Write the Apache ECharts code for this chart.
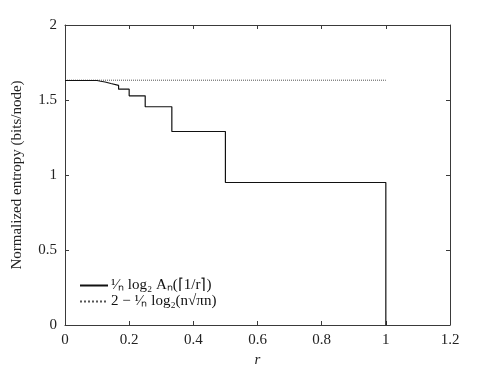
<!DOCTYPE html>
<html>
<head>
<meta charset="utf-8">
<script src="https://cdn.jsdelivr.net/npm/echarts@6/dist/echarts.min.js"></script>
<style>
  html, body { margin: 0; padding: 0; background: #fff; }
  #chart { width: 498px; height: 373px; }
</style>
</head>
<body>
<div id="chart"></div>
<script>
// step breakpoints r = 1/k and the level held to the right of each one
var stepR = [0, 0.1, 0.111, 0.125, 0.143, 0.167, 0.2, 0.25, 0.333, 0.5, 1];
var stepV = [1.63, 1.625, 1.62, 1.61, 1.597, 1.572, 1.528, 1.455, 1.29, 0.95, 0];
// bound 2 - (1/n) log2(n sqrt(pi n))
var boundR = [0, 1];
var boundV = [1.632, 1.632];
var xTicks = [0, 0.2, 0.4, 0.6, 0.8, 1, 1.2];
var yTicks = [0, 0.5, 1, 1.5, 2];

var FONT = 'Liberation Serif';
var AX = '#3a3a3a';

var chart = echarts.init(document.getElementById('chart'));

function pairs(xs, ys) {
  return xs.map(function (x, i) { return [x, ys[i]]; });
}

var boxAxis = {
  axisLine: { show: true, onZero: false, lineStyle: { color: AX, width: 1 } },
  axisTick: { show: true, inside: true, length: 4, lineStyle: { color: AX } },
  axisLabel: { show: false },
  splitLine: { show: false }
};

chart.setOption({
  animation: false,
  grid: { left: 65, right: 48, top: 25, bottom: 48 },
  legend: {
    orient: 'vertical',
    left: 74, top: 273,
    itemWidth: 28, itemHeight: 10, itemGap: 1,
    itemStyle: { opacity: 0 },
    textStyle: { fontFamily: FONT, fontSize: 15, color: '#111', padding: [0, 0, 0, -2] },
    data: ['s', 'b'],
    formatter: function (n) {
      return n === 's' ? '\u00b9\u2044\u2099 log\u2082 A\u2099(\u23081/r\u2309)'
                       : '2 \u2212 \u00b9\u2044\u2099 log\u2082(n\u221a\u03c0n)';
    }
  },
  xAxis: [
    Object.assign({
      type: 'value', min: 0, max: 1.2, interval: 0.2,
      name: 'r', nameLocation: 'middle', nameGap: 22,
      nameTextStyle: { fontFamily: FONT, fontSize: 15, fontStyle: 'italic', color: '#222' }
    }, boxAxis, {
      axisLabel: {
        show: true, fontFamily: FONT, fontSize: 15, color: '#222', margin: 8,
        formatter: function (v) { return xTicks.indexOf(Math.round(v * 10) / 10) >= 0 ? String(Math.round(v * 10) / 10) : ''; }
      }
    }),
    Object.assign({ type: 'value', min: 0, max: 1.2, interval: 0.2, position: 'top' }, boxAxis)
  ],
  yAxis: [
    Object.assign({
      type: 'value', min: 0, max: 2, interval: 0.5,
      name: 'Normalized entropy (bits/node)', nameLocation: 'middle', nameGap: 40,
      nameTextStyle: { fontFamily: FONT, fontSize: 15, color: '#222' }
    }, boxAxis, {
      axisLabel: {
        show: true, fontFamily: FONT, fontSize: 15, color: '#222', margin: 8,
        formatter: function (v) { return yTicks.indexOf(v) >= 0 ? String(v) : ''; }
      }
    }),
    Object.assign({ type: 'value', min: 0, max: 2, interval: 0.5, position: 'right' }, boxAxis)
  ],
  series: [
    {
      name: 's', type: 'line', step: 'end', symbol: 'none',
      lineStyle: { color: '#111', width: 1.2 },
      itemStyle: { color: '#111' },
      data: pairs(stepR, stepV), z: 3
    },
    {
      name: 'b', type: 'line', symbol: 'none',
      lineStyle: { color: '#555', width: 1, type: 'dotted' },
      itemStyle: { color: '#555' },
      data: pairs(boundR, boundV), z: 2
    }
  ]
});
</script>
</body>
</html>
